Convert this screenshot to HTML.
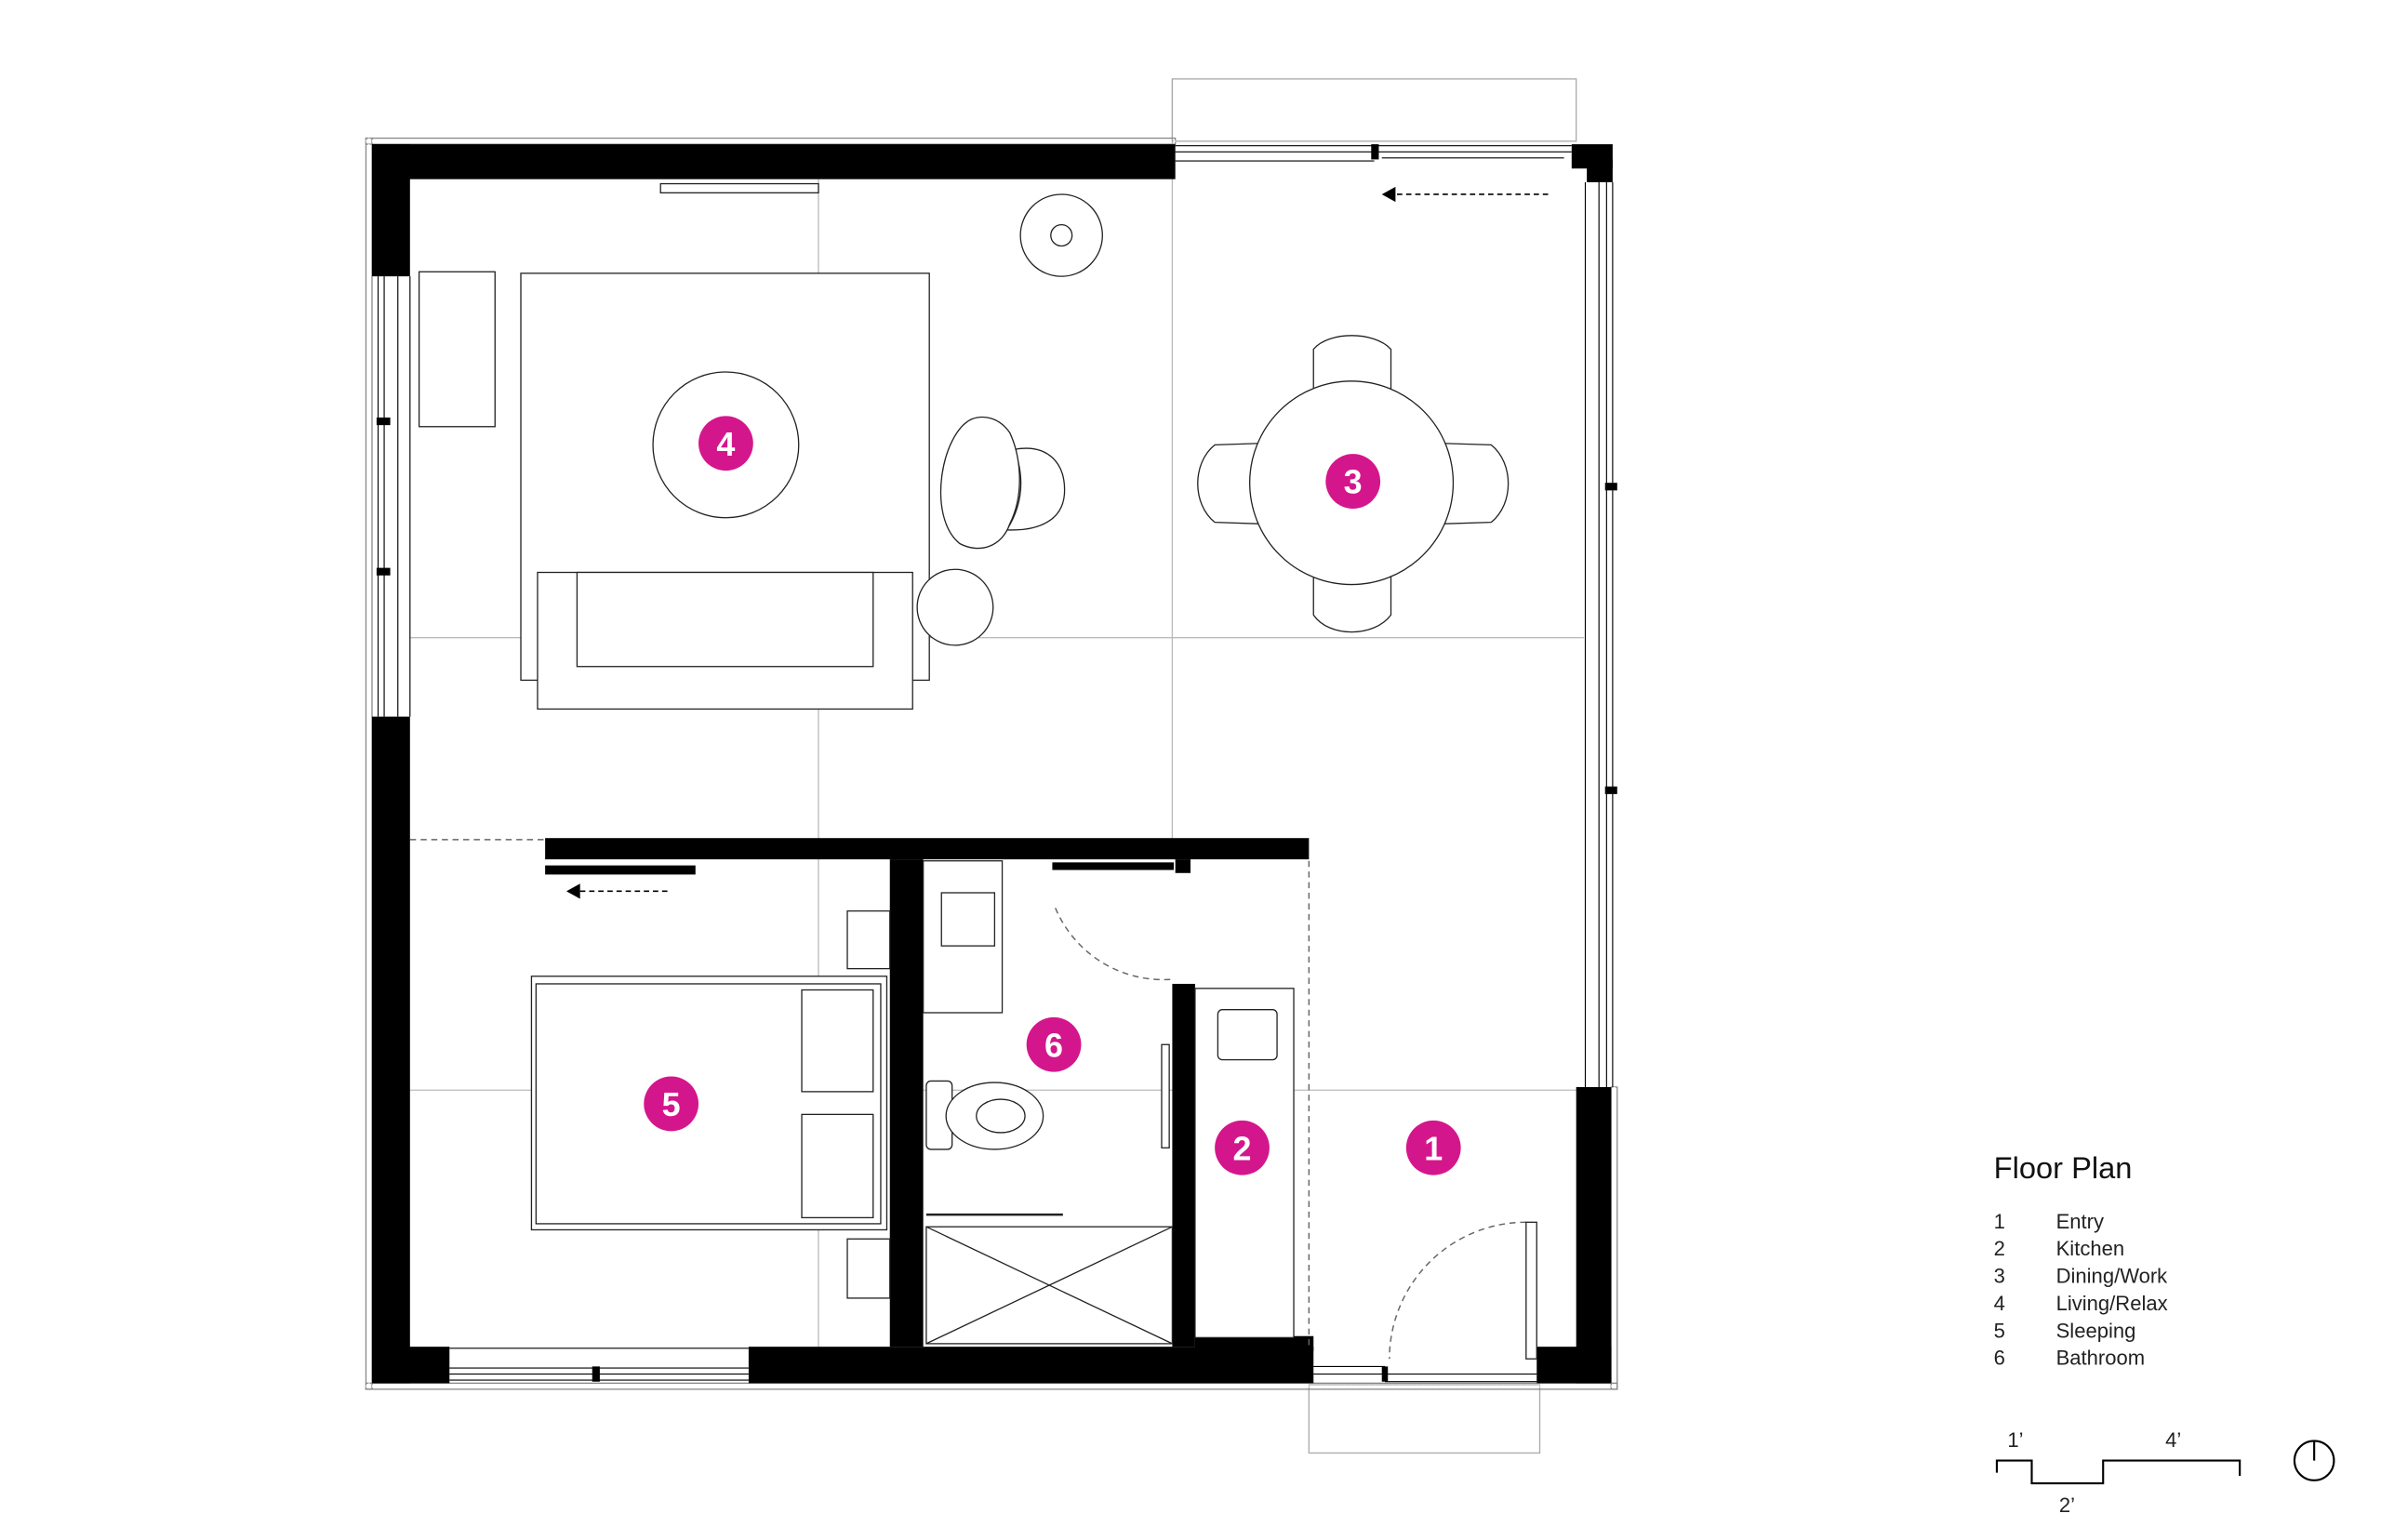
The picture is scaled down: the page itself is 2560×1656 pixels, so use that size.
<!DOCTYPE html>
<html><head><meta charset="utf-8"><style>
html,body{margin:0;padding:0;background:#fff;}
svg{display:block;}
text{font-family:"Liberation Sans",sans-serif;}
</style></head><body>
<svg width="2560" height="1656" viewBox="0 0 1568 1014.3" preserveAspectRatio="none" xmlns="http://www.w3.org/2000/svg">
<rect width="1568" height="1015" fill="#fff"/>
<g stroke="#bbb" stroke-width="0.8" fill="none">
<line x1="772" y1="52" x2="772" y2="553"/>
<line x1="539" y1="118" x2="539" y2="180"/>
<line x1="539" y1="467" x2="539" y2="643"/>
<line x1="539" y1="810" x2="539" y2="887"/>
<line x1="270" y1="420" x2="343" y2="420"/>
<line x1="612" y1="420" x2="1043" y2="420"/>
<line x1="270" y1="718" x2="350" y2="718"/>
<line x1="608" y1="718" x2="772" y2="718"/>
<line x1="852" y1="718" x2="1043" y2="718"/>
</g>
<rect x="772" y="52" width="266" height="41" fill="none" stroke="#aaa" stroke-width="0.8"/>
<rect x="862" y="912" width="152" height="45" fill="none" stroke="#aaa" stroke-width="0.8"/>
<g fill="none" stroke="#888" stroke-width="0.8">
<rect x="241" y="91" width="533" height="4"/>
<rect x="241" y="91" width="4" height="824"/>
<rect x="241" y="911" width="824" height="4"/>
<rect x="1061" y="716" width="4" height="199"/>
</g>
<g stroke="#fff" stroke-width="1.2" stroke-dasharray="1,3">
<line x1="241" y1="93" x2="774" y2="93"/>
<line x1="243" y1="91" x2="243" y2="915"/>
<line x1="241" y1="913" x2="1065" y2="913"/>
<line x1="1063" y1="716" x2="1063" y2="915"/>
</g>
<g fill="#000">
<rect x="245" y="95" width="529" height="23"/>
<rect x="245" y="95" width="25" height="87"/>
<rect x="245" y="472" width="25" height="439"/>
<rect x="245" y="887" width="51" height="24"/>
<rect x="493" y="887" width="372" height="24"/>
<rect x="1012" y="887" width="49" height="24"/>
<rect x="1038" y="716" width="23" height="195"/>
<rect x="1035" y="95" width="27" height="16"/>
<rect x="1045" y="105" width="17" height="15"/>
<rect x="359" y="552" width="503" height="14"/>
<rect x="359" y="570" width="99" height="6"/>
<rect x="586" y="566" width="22" height="321"/>
<rect x="772" y="648" width="15" height="239"/>
<rect x="787" y="880" width="78" height="10"/>
<rect x="693" y="568" width="80" height="5"/>
<rect x="774" y="566" width="10" height="9"/>
<rect x="903" y="95" width="5" height="10"/>
<rect x="248" y="275" width="9" height="5"/>
<rect x="248" y="374" width="9" height="5"/>
<rect x="1057" y="318" width="8" height="5"/>
<rect x="1057" y="518" width="8" height="5"/>
<rect x="390" y="900" width="5" height="10"/>
<rect x="910" y="900" width="4" height="10"/>
</g>
<g fill="none" stroke="#000" stroke-width="0.7">
<line x1="249" y1="182" x2="249" y2="472"/>
<line x1="253" y1="182" x2="253" y2="472"/>
<line x1="262" y1="182" x2="262" y2="472"/>
<line x1="270" y1="182" x2="270" y2="472"/>
<line x1="774" y1="96" x2="1035" y2="96"/>
<line x1="774" y1="100" x2="1035" y2="100"/>
<line x1="910" y1="104" x2="1030" y2="104"/>
<line x1="774" y1="106" x2="905" y2="106"/>
<line x1="1044" y1="120" x2="1044" y2="716"/>
<line x1="1053" y1="120" x2="1053" y2="716"/>
<line x1="1058" y1="120" x2="1058" y2="716"/>
<line x1="1062" y1="120" x2="1062" y2="716"/>
<line x1="296" y1="888" x2="493" y2="888"/>
<line x1="296" y1="901" x2="493" y2="901"/>
<line x1="296" y1="905" x2="493" y2="905"/>
<line x1="296" y1="909" x2="493" y2="909"/>
<line x1="865" y1="900" x2="912" y2="900"/>
<line x1="865" y1="905" x2="1012" y2="905"/>
<line x1="912" y1="910" x2="1012" y2="910"/>
</g>
<g fill="none" stroke="#666" stroke-width="0.9" stroke-dasharray="4,3">
<line x1="270" y1="553" x2="359" y2="553"/>
<line x1="862" y1="567" x2="862" y2="887"/>
<path d="M695 598 A 77 77 0 0 0 772 645"/>
<path d="M1005 805 A 90 90 0 0 0 915 895"/>
</g>
<g stroke="#000" stroke-width="1" stroke-dasharray="3.5,2.5">
<line x1="382" y1="587" x2="440" y2="587"/>
<line x1="920" y1="128" x2="1022" y2="128"/>
</g>
<polygon points="373,587 382,582 382,592" fill="#000"/>
<polygon points="910,128 919,123 919,133" fill="#000"/>
<g fill="#fff" stroke="#222" stroke-width="0.8">
<rect x="435" y="121" width="104" height="6"/>
<rect x="276" y="179" width="50" height="102"/>
<rect x="343" y="180" width="269" height="268"/>
<circle cx="478" cy="293" r="48"/>
<rect x="354" y="377" width="247" height="90"/>
<rect x="380" y="377" width="195" height="62"/>
<circle cx="629" cy="400" r="25"/>
<ellipse cx="699" cy="155" rx="27" ry="27"/>
<ellipse cx="699" cy="155" rx="7" ry="7"/>
<path d="M668 296 C 690 292 702 305 701 325 C 700 342 685 350 663 349 C 675 330 674 312 668 296 Z"/>
<path d="M640 276 C 620 285 610 340 632 358 C 645 365 660 360 665 345 C 675 325 672 300 665 285 C 658 275 648 273 640 276 Z"/>
<path d="M865 262 L865 230 C 875 218 905 218 916 230 L916 262 Z"/>
<path d="M865 375 L865 405 C 875 420 905 420 916 405 L916 375 Z"/>
<path d="M830 292 L800 293 C 785 305 785 332 800 344 L830 345 Z"/>
<path d="M950 292 L982 293 C 997 305 997 332 982 344 L950 345 Z"/>
<circle cx="890" cy="318" r="67"/>
<rect x="350" y="643" width="234" height="167"/>
<rect x="353" y="648" width="227" height="158"/>
<rect x="528" y="652" width="47" height="67"/>
<rect x="528" y="734" width="47" height="68"/>
<rect x="558" y="600" width="28" height="38"/>
<rect x="558" y="816" width="28" height="39"/>
<rect x="608" y="567" width="52" height="100"/>
<rect x="620" y="588" width="35" height="35"/>
<rect x="610" y="712" width="17" height="45" rx="3"/>
<ellipse cx="655" cy="735" rx="32" ry="22"/>
<ellipse cx="659" cy="735" rx="16" ry="11"/>
<rect x="765" y="688" width="5" height="68"/>
<rect x="787" y="651" width="65" height="230"/>
<rect x="802" y="665" width="39" height="33" rx="3"/>
<rect x="610" y="808" width="162" height="77"/>
<rect x="1005" y="805" width="7" height="90"/>
</g>
<g stroke="#222" stroke-width="0.8">
<line x1="610" y1="808" x2="772" y2="885"/>
<line x1="772" y1="808" x2="610" y2="885"/>
<line x1="610" y1="800" x2="700" y2="800" stroke-width="1.5"/>
</g>
<g fill="#d4168c">
<circle cx="944" cy="756" r="18"/>
<circle cx="818" cy="756" r="18"/>
<circle cx="891" cy="317" r="18"/>
<circle cx="478" cy="292" r="18"/>
<circle cx="442" cy="727" r="18"/>
<circle cx="694" cy="688" r="18"/>
</g>
<g fill="#fff" font-weight="bold" font-size="22" text-anchor="middle">
<text x="944" y="764">1</text>
<text x="818" y="764">2</text>
<text x="891" y="325">3</text>
<text x="478" y="300">4</text>
<text x="442" y="735">5</text>
<text x="694" y="696">6</text>
</g>
<text x="1313" y="776" font-size="20" fill="#111">Floor Plan</text>
<g font-size="13.5" fill="#222">
<text x="1313" y="809">1</text><text x="1354" y="809">Entry</text>
<text x="1313" y="827">2</text><text x="1354" y="827">Kitchen</text>
<text x="1313" y="845">3</text><text x="1354" y="845">Dining/Work</text>
<text x="1313" y="863">4</text><text x="1354" y="863">Living/Relax</text>
<text x="1313" y="881">5</text><text x="1354" y="881">Sleeping</text>
<text x="1313" y="899">6</text><text x="1354" y="899">Bathroom</text>
<text x="1322" y="953">1’</text>
<text x="1426" y="953">4’</text>
<text x="1356" y="996">2’</text>
</g>
<path d="M1315 970 V962 H1338 V977 H1385 V962 H1475 V972" fill="none" stroke="#000" stroke-width="1.3"/>
<circle cx="1524" cy="962" r="13" fill="none" stroke="#000" stroke-width="1.3"/>
<line x1="1524" y1="949" x2="1524" y2="962" stroke="#000" stroke-width="1.3"/>
</svg>
</body></html>
